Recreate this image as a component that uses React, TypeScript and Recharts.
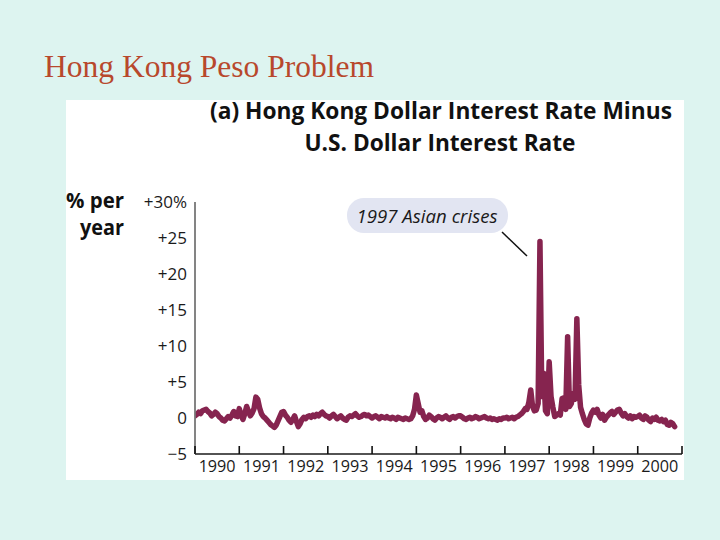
import React from 'react';
import { LineChart, Line, XAxis, YAxis } from 'recharts';

const years = [1990, 1991, 1992, 1993, 1994, 1995, 1996, 1997, 1998, 1999, 2000];
const xTicks = [...years, 2001];
const yTicks = [-5, 0, 5, 10, 15, 20, 25, 30];
const yTickLabels = ['\u22125', '0', '+5', '+10', '+15', '+20', '+25', '+30%'];

// HK$ minus US$ interest rate, % per year, two readings per month
const spread1990 = [0.3, 0.5, 0.8, 0.6, 1.0, 1.1, 1.2, 0.9, 0.7, 0.3, 0.5, 0.8, 0.6, 0.2, 0.0, -0.3, -0.4, -0.1, 0.2, 0.0, 0.4, 0.9, 0.3, 0.2];
const spread1991 = [1.3, 0.4, -0.2, 0.6, 1.6, 0.9, 0.3, 0.7, 1.3, 2.9, 2.6, 1.4, 0.6, 0.2, 0.0, -0.3, -0.6, -0.9, -1.1, -1.3, -1.0, -0.4, 0.2, 0.8];
const spread1992 = [0.9, 0.4, 0.1, -0.3, -0.6, -0.2, 0.3, -0.5, -1.2, -0.8, -0.2, 0.1, -0.1, 0.2, 0.3, 0.1, 0.4, 0.2, 0.5, 0.3, 0.6, 0.8, 0.5, 0.3];
const spread1993 = [0.2, 0.0, 0.3, 0.5, 0.2, -0.1, 0.1, 0.3, 0.0, -0.2, -0.3, 0.1, 0.3, 0.2, 0.4, 0.6, 0.3, 0.1, 0.2, 0.4, 0.5, 0.3, 0.4, 0.2];
const spread1994 = [0.0, 0.2, 0.3, 0.1, -0.1, 0.2, 0.1, 0.0, 0.2, 0.0, -0.1, 0.1, 0.0, -0.2, 0.1, 0.0, -0.1, -0.2, 0.0, -0.1, -0.2, -0.1, 0.3, 1.2];
const spread1995 = [3.2, 2.0, 0.8, 1.0, 0.2, -0.2, 0.0, 0.4, 0.2, -0.1, -0.3, 0.0, 0.2, 0.1, -0.1, 0.1, 0.3, 0.0, -0.2, 0.1, 0.2, 0.0, 0.2, 0.3];
const spread1996 = [0.3, 0.1, -0.1, -0.2, 0.0, 0.1, -0.1, 0.0, 0.2, 0.1, -0.1, 0.0, 0.1, 0.2, 0.0, -0.1, 0.0, -0.2, -0.1, -0.2, -0.3, -0.1, -0.2, 0.0];
const spread1997 = [0.0, 0.1, -0.1, 0.0, 0.1, -0.1, 0.1, 0.2, 0.4, 0.6, 0.9, 1.3, 1.2, 2.2, 3.9, 1.6, 1.0, 1.1, 2.0, 24.5, 3.0, 6.2, 1.0, 0.6];
const spread1998 = [7.8, 3.0, 1.5, 0.2, 0.4, 0.6, 0.4, 2.7, 2.8, 1.2, 11.3, 1.6, 2.0, 3.4, 2.6, 13.8, 4.6, 1.5, 0.6, -0.2, -0.8, -1.0, 0.0, 0.7];
const spread1999 = [1.1, 0.8, 1.2, 0.4, 0.0, 0.5, -0.3, 0.1, 0.4, 0.7, 0.9, 0.5, 0.8, 1.1, 1.2, 0.7, 0.3, 0.6, 0.2, 0.0, 0.3, -0.1, 0.2, 0.1];
const spread2000 = [0.2, 0.4, 0.0, -0.2, 0.3, 0.1, -0.3, -0.5, 0.0, -0.2, 0.1, -0.3, -0.4, -0.2, -0.5, -0.3, -0.9, -1.0, -0.6, -0.8, -1.2];

const spreadByYear = [
  spread1990, spread1991, spread1992, spread1993, spread1994, spread1995,
  spread1996, spread1997, spread1998, spread1999, spread2000,
];

const data = spreadByYear.flatMap((vals, i) =>
  vals.map((v, k) => ({ date: years[i] + k / 24, spread: v }))
);

const W = 720;
const H = 540;
const PLOT_LEFT = 195;
const PLOT_RIGHT = 682;
const PLOT_TOP = 202;
const PLOT_BOTTOM = 454;
const HALF_YEAR = (PLOT_RIGHT - PLOT_LEFT) / (xTicks.length - 1) / 2;

const tickFont = '"Open Sans", "DejaVu Sans", sans-serif';
const boldFont = '"Liberation Sans Narrow", "Open Sans", sans-serif';

// inward tick mark plus a year label centred inside the year
const YearTick = ({ x, payload }: any) => (
  <g>
    <path d={`M${x},${PLOT_BOTTOM}V${PLOT_BOTTOM - 8}`} stroke="#111111" strokeWidth={1.6} fill="none" />
    {years.includes(payload.value) && (
      <text
        x={x + HALF_YEAR}
        y={PLOT_BOTTOM + 18}
        textAnchor="middle"
        fontFamily={tickFont}
        fontSize={17}
        fill="#1a1a1a"
        textLength={37}
        lengthAdjust="spacingAndGlyphs"
      >
        {payload.value}
      </text>
    )}
  </g>
);

export default function App() {
  return (
    <div style={{ position: 'absolute', left: 0, top: 0, width: W, height: H, background: '#ddf4f0', overflow: 'hidden' }}>
      <div style={{ position: 'absolute', left: 66, top: 100, width: 618, height: 380, background: '#ffffff' }} />

      <div style={{ position: 'absolute', left: 0, top: 0 }}>
        <LineChart
          width={W}
          height={H}
          data={data}
          margin={{ top: PLOT_TOP, right: W - PLOT_RIGHT, bottom: 56, left: PLOT_LEFT - 60 }}
        >
          <XAxis
            dataKey="date"
            type="number"
            domain={[1990, 2001]}
            ticks={xTicks}
            allowDataOverflow
            height={30}
            stroke="#1a1a1a"
            strokeWidth={1.3}
            tickLine={false}
            tick={YearTick}
          />
          <YAxis
            type="number"
            domain={[-5, 30]}
            ticks={yTicks}
            width={60}
            stroke="#777777"
            strokeWidth={1.8}
            tickLine={false}
            tickFormatter={(v: number) => yTickLabels[yTicks.indexOf(v)]}
            tick={{ fill: '#1a1a1a', fontSize: 17, fontFamily: tickFont }}
          />
          <Line
            type="linear"
            dataKey="spread"
            stroke="#86244f"
            strokeWidth={5.5}
            strokeLinejoin="round"
            strokeLinecap="round"
            dot={false}
            isAnimationActive={false}
          />
        </LineChart>
      </div>

      <svg width={W} height={H} style={{ position: 'absolute', left: 0, top: 0, pointerEvents: 'none' }}>
        <text x={44} y={77} fontFamily='"Liberation Serif", serif' fontSize={31} fill="#b8482c"
          textLength={330} lengthAdjust="spacingAndGlyphs">
          Hong Kong Peso Problem
        </text>

        <text x={441} y={119} textAnchor="middle" fontFamily={boldFont} fontWeight="bold" fontSize={23}
          fill="#111" textLength={462} lengthAdjust="spacingAndGlyphs">
          (a) Hong Kong Dollar Interest Rate Minus
        </text>
        <text x={440} y={151} textAnchor="middle" fontFamily={boldFont} fontWeight="bold" fontSize={23}
          fill="#111" textLength={271} lengthAdjust="spacingAndGlyphs">
          U.S. Dollar Interest Rate
        </text>

        <text x={124} y={208} textAnchor="end" fontFamily={boldFont} fontWeight="bold" fontSize={21}
          fill="#111" textLength={58} lengthAdjust="spacingAndGlyphs">
          % per
        </text>
        <text x={124} y={235} textAnchor="end" fontFamily={boldFont} fontWeight="bold" fontSize={21}
          fill="#111" textLength={44} lengthAdjust="spacingAndGlyphs">
          year
        </text>

        <rect x={347} y={198} width={161} height={35} rx={17} fill="#e2e5f2" />
        <text x={427} y={223} textAnchor="middle" fontFamily={tickFont} fontStyle="italic" fontSize={19}
          fill="#1a1a1a" textLength={141} lengthAdjust="spacingAndGlyphs">
          1997 Asian crises
        </text>
        <line x1={502} y1={232} x2={527} y2={256} stroke="#111" strokeWidth={1.5} />
      </svg>
    </div>
  );
}
